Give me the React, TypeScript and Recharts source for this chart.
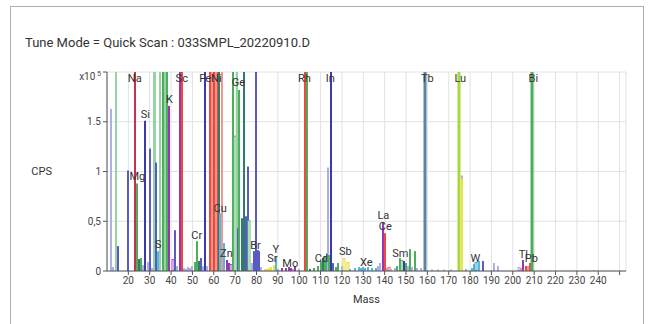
import { Bar, CartesianGrid, ComposedChart, Scatter, XAxis, YAxis } from 'recharts'

// x axis (mass) and y axis (cps) ticks
const massTicks = [20, 30, 40, 50, 60, 70, 80, 90, 100, 110, 120, 130, 140, 150, 160, 170, 180, 190, 200, 210, 220, 230, 240, 250]
const cpsTicks = [0, 50000, 100000, 150000, 200000]
const cpsTickText = ['0', '0,5', '1', '1.5', 'x10']

// peaks: mass, counts per second, colour group (values above 200000 run off the top)
const peakMass = [
  12, 13, 14, 15, 20, 23, 24, 25, 26, 27, 28, 29, 30, 31, 32, 32.4, 33, 34, 35, 36, 37, 38, 39, 41, 42, 43,
  44, 45, 46, 47, 48, 49, 50, 51, 52, 53, 54, 55, 56, 57, 58, 59, 60, 61, 62, 62.4, 63, 64, 65, 66, 67, 68,
  69, 70, 71, 71.4, 72, 73, 74, 75, 76, 76.6, 78, 79, 80, 80.5, 81, 82, 84, 85, 86, 87, 88, 89, 90, 92, 94,
  95, 96, 97, 98, 100, 102.8, 103.7, 105, 107, 109, 110, 111, 112, 113, 113.4, 114, 115, 116, 117, 118, 120,
  121, 123, 124, 126, 128, 129, 130, 131, 132, 134, 136, 137, 138, 139, 140, 141, 142, 143, 145, 146, 147,
  148, 149, 150, 151, 152, 153, 154, 155, 157, 159, 162, 165, 168, 171, 175, 176, 176.4, 178, 181, 182, 183,
  184, 186, 191, 193, 203, 204, 205, 206, 207, 208, 209, 238,
]
const peakCps = [
  163000, 4000, 250000, 25000, 101000, 250000, 88000, 12000, 13000, 6000, 151000, 9000, 123000, 3000, 250000, 250000, 109000, 20000, 250000, 250000, 250000, 250000, 166000, 12000, 41000, 5000,
  250000, 250000, 3000, 2000, 4000, 3000, 5000, 9000, 30000, 10000, 13000, 5000, 250000, 5000, 250000, 250000, 250000, 250000, 250000, 250000, 58000, 250000, 28000, 11000, 8000, 7000,
  250000, 136000, 250000, 43000, 182000, 53000, 250000, 55000, 105000, 51000, 8000, 20000, 250000, 21000, 20000, 4000, 2000, 2000, 3000, 4000, 6000, 15000, 2000, 3000, 3000,
  4000, 3000, 2000, 5000, 2000, 250000, 250000, 2000, 3000, 5000, 10000, 13000, 15000, 18000, 104000, 16000, 250000, 8000, 4000, 8000, 5000,
  13000, 9000, 2000, 3000, 4000, 3000, 4000, 3000, 4000, 3000, 3000, 5000, 8000, 49000, 38000, 3000, 4000, 2000, 3000, 5000, 13000,
  11000, 10000, 8000, 5000, 22000, 4000, 20000, 3000, 3000, 250000, 1500, 1500, 1500, 1500, 250000, 96000, 93000, 2000, 3000, 7000, 9000,
  10000, 10000, 8000, 5000, 4000, 3000, 11000, 5000, 5000, 8000, 250000, 1000,
]
const peakGroup = [
  'L', 'L', 'G', 'B', 'B', 'C', 'g', 'T', 'g', 'L', 'D', 'L', 'B', 'L', 'G', 'G', 'B', 'c', 'G', 'g', 'G', 'g', 'M', 'm', 'B', 'L',
  'M', 'R', 'L', 'L', 'L', 'L', 'L', 'g', 'g', 'T', 'B', 'L', 'D', 'L', 'R', 'r', 'R', 'r', 'R', 'T', 'c', 'r', 'c', 'M', 'M', 'm',
  'g', 'H', 'G', 'B', 'g', 'T', 'T', 'B', 'B', 'H', 'L', 'B', 'B', 'B', 'B', 'L', 'Y', 'Y', 'Y', 'Y', 'Y', 'c', 'L', 'M', 'M',
  'M', 'M', 'L', 'M', 'L', 'R', 'g', 'T', 'g', 'g', 'g', 'T', 'g', 'g', 'L', 'g', 'D', 'B', 'g', 'g', 'L',
  'y', 'y', 'c', 'c', 'c', 'c', 'c', 'c', 'c', 'c', 'c', 'L', 'L', 'M', 'R', 'L', 'p', 'L', 'L', 'g', 'g',
  'H', 'D', 'g', 'L', 'g', 'L', 'g', 'L', 'L', 'S', 'L', 'L', 'L', 'L', 'V', 'L', 'Y', 'L', 'c', 'c', 'k',
  'c', 'B', 'L', 'L', 'l', 'r', 'M', 'R', 'r', 'R', 'W', 'L',
]

// element labels
const elementName = ['Na', 'Mg', 'Si', 'S', 'K', 'Sc', 'Cr', 'Fe', 'Ni', 'Cu', 'Zn', 'Ge', 'Br', 'Sr', 'Y', 'Mo', 'Rh', 'Cd', 'In', 'Sb', 'Xe', 'La', 'Ce', 'Sm', 'Tb', 'Lu', 'W', 'Tl', 'Pb', 'Bi']
const elementMass = [23, 24.2, 28, 34, 39.2, 45, 52, 56, 61.2, 63, 65.9, 71.5, 79.5, 87.4, 89, 95.8, 102.4, 110.4, 114.6, 121.6, 131.4, 139.4, 140.3, 147.3, 160, 175.4, 182.5, 204.9, 208.7, 209.6]
const elementCps = [190000, 91000, 154000, 23000, 169000, 190000, 32000, 190000, 190000, 59000, 14000, 186000, 22000, 9000, 18000, 4000, 190000, 9000, 190000, 16000, 5000, 52000, 41000, 14000, 190000, 190000, 9000, 13000, 9000, 190000]

const groupStyle: Record<string, { fill: string; stroke: string; w: number }> = {
  L: { fill: '#aeaee8', stroke: 'none', w: 2 },
  B: { fill: '#5a5ac6', stroke: 'none', w: 2 },
  D: { fill: '#3a3aac', stroke: 'none', w: 2 },
  G: { fill: '#94d3a2', stroke: 'none', w: 2 },
  g: { fill: '#4fae5d', stroke: 'none', w: 2 },
  W: { fill: '#4fae5d', stroke: 'none', w: 3 },
  T: { fill: '#2e7d6a', stroke: 'none', w: 2 },
  H: { fill: '#ffffff', stroke: '#5cb86a', w: 3 },
  R: { fill: '#ec4a3f', stroke: 'none', w: 2 },
  r: { fill: '#f4948a', stroke: 'none', w: 2 },
  p: { fill: '#ffffff', stroke: '#ee6a60', w: 3 },
  C: { fill: '#c4324e', stroke: 'none', w: 2 },
  M: { fill: '#9a35b5', stroke: 'none', w: 2 },
  m: { fill: '#ffffff', stroke: '#a655c0', w: 3 },
  l: { fill: '#ffffff', stroke: '#a8a8e4', w: 3 },
  Y: { fill: '#eee23c', stroke: 'none', w: 2 },
  y: { fill: '#ffffff', stroke: '#e6da30', w: 3 },
  c: { fill: '#55b8de', stroke: 'none', w: 2 },
  k: { fill: '#ffffff', stroke: '#3a9fc6', w: 3 },
  V: { fill: '#a8d83a', stroke: 'none', w: 3 },
  S: { fill: '#5a86a6', stroke: 'none', w: 3 },
}

const peaks = peakMass.map((mass, i) => ({ mass, cps: peakCps[i], group: peakGroup[i] }))
const elements = elementName.map((name, i) => ({ name, mass: elementMass[i], cps: elementCps[i] }))

function PeakBar({ x, y, width, height, payload }: any) {
  const s = groupStyle[payload.group]
  const mid = Math.round(x + width / 2)
  const w = s.w
  if (s.stroke !== 'none') {
    return <rect x={mid - w / 2 + 0.5} y={y + 0.5} width={w - 1} height={Math.max(height - 1, 0)} fill={s.fill} stroke={s.stroke} strokeWidth={1} />
  }
  return <rect x={mid - w / 2} y={y} width={w} height={Math.max(height, 0)} fill={s.fill} />
}

function CpsTick({ x, y, payload }: any) {
  const i = cpsTicks.indexOf(payload.value)
  if (payload.value === 200000) {
    return (
      <text x={x} y={y + 4} textAnchor="end" fontSize={10} fill="#444" dy="0.35em">
        {cpsTickText[i]}
        <tspan fontSize={7} dy={-4}> 5</tspan>
      </text>
    )
  }
  return (
    <text x={x} y={y} textAnchor="end" fontSize={10} fill="#444" dy="0.35em">
      {cpsTickText[i]}
    </text>
  )
}

function ElementLabel({ cx, cy, payload }: any) {
  return (
    <text x={cx} y={cy} textAnchor="middle" fontSize={11} fill="#333">
      {payload.name}
    </text>
  )
}

export default function App() {
  return (
    <div style={{ position: 'absolute', left: 0, top: 0, width: 651, height: 324, overflow: 'hidden', background: '#fff', fontFamily: 'Roboto, sans-serif' }}>
      <div style={{ position: 'absolute', left: 10, top: 6, width: 632, height: 340, border: '1px solid #b0b0b0' }} />
      <div style={{ position: 'absolute', left: 25, top: 35, fontSize: 13, color: '#333' }}>
        Tune Mode = Quick Scan : 033SMPL_20220910.D
      </div>
      <div style={{ position: 'absolute', left: 0, top: 0 }}>
        <ComposedChart width={651} height={324} data={peaks} margin={{ top: 72, right: 25, bottom: 23, left: 47 }}>
          <CartesianGrid stroke="#e2e2e2" />
          <XAxis
            dataKey="mass"
            type="number"
            domain={[10, 253]}
            ticks={massTicks}
            interval={0}
            allowDataOverflow
            tick={{ fontSize: 10, fill: '#444' }}
            tickFormatter={(v: number) => (v === 250 ? '' : String(v))}
            tickSize={4}
            stroke="#555"
            height={30}
            label={{ value: 'Mass', position: 'bottom', offset: -6, fontSize: 11, fill: '#333' }}
          />
          <YAxis
            type="number"
            domain={[0, 200000]}
            ticks={cpsTicks}
            allowDataOverflow
            tick={<CpsTick />}
            tickSize={4}
            stroke="#555"
            width={60}
            label={{ value: 'CPS', position: 'left', offset: -5, fontSize: 11, fill: '#333' }}
          />
          <Bar dataKey="cps" barSize={3} shape={<PeakBar />} isAnimationActive={false} />
          <Scatter data={elements} dataKey="cps" shape={<ElementLabel />} isAnimationActive={false} />
        </ComposedChart>
      </div>
    </div>
  )
}
